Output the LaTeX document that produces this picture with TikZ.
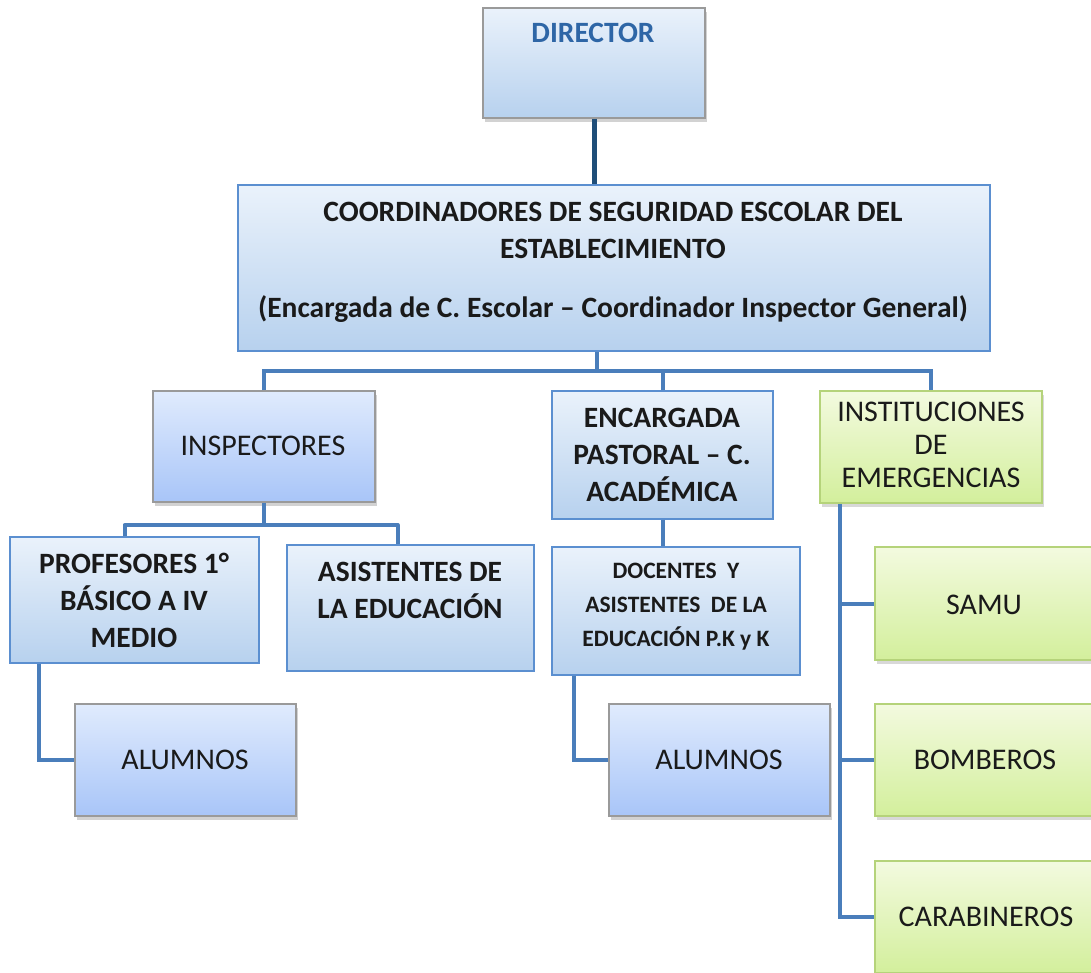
\documentclass[tikz,border=0pt]{standalone}
\usepackage{fontspec}
\setmainfont{Carlito}
\usetikzlibrary{shadows,calc}
\definecolor{conncol}{HTML}{4A7EBB}
\definecolor{dircol}{HTML}{1F4E79}
\definecolor{bluebord}{HTML}{5B8FD0}
\definecolor{graybord}{HTML}{9A9A9A}
\definecolor{greenbord}{HTML}{B5D37A}
\definecolor{bt}{HTML}{EAF2FB}
\definecolor{bb}{HTML}{B7D1EE}
\definecolor{lt}{HTML}{E0EBFD}
\definecolor{lb}{HTML}{A8C5F8}
\definecolor{gt}{HTML}{F3FADF}
\definecolor{gb}{HTML}{D3EF9C}
\definecolor{textcol}{HTML}{1A1A1A}
\definecolor{dirtext}{HTML}{2E66A6}
\tikzset{
  boxbase/.style={rectangle, inner sep=0pt, line width=1.5pt},
  bluebox/.style={boxbase, draw=bluebord, top color=bt, bottom color=bb},
  lavbox/.style={boxbase, draw=graybord, top color=lt, bottom color=lb,
     drop shadow={shadow xshift=2pt, shadow yshift=-4pt, opacity=0.35}},
  dirbox/.style={boxbase, draw=graybord, top color=bt, bottom color=bb,
     drop shadow={shadow xshift=2pt, shadow yshift=-4pt, opacity=0.35}},
  greenbox/.style={boxbase, draw=greenbord, top color=gt, bottom color=gb,
     drop shadow={shadow xshift=2pt, shadow yshift=-4pt, opacity=0.3}},
  conn/.style={draw=conncol, line width=4pt},
  dconn/.style={draw=dircol, line width=5pt},
  txt/.style={align=center, text=textcol, inner sep=0pt, font=\fontsize{30}{36}\selectfont},
  btxt/.style={txt, font=\fontsize{29.5}{37}\selectfont\bfseries},
}
\begin{document}
\begin{tikzpicture}[x=1pt,y=-1pt]
\clip (0,0) rectangle (1091,972);
\fill[white] (0,0) rectangle (1091,972);

% boxes
\node[dirbox, minimum width=222pt, minimum height=110pt] (dir) at (594,63) {};
\node[bluebox, minimum width=752pt, minimum height=166pt] (coord) at (614,268) {};
\node[lavbox, minimum width=222pt, minimum height=111pt] (insp) at (264,446.5) {};
\node[bluebox, minimum width=221pt, minimum height=128pt] (enc) at (662.5,455) {};
\node[greenbox, minimum width=222pt, minimum height=112pt] (inst) at (931,447) {};
\node[bluebox, minimum width=249pt, minimum height=126pt] (prof) at (134.5,600) {};
\node[bluebox, minimum width=247pt, minimum height=126pt] (asis) at (410.5,608) {};
\node[bluebox, minimum width=248pt, minimum height=128pt] (doc) at (676,611) {};
\node[lavbox, minimum width=221pt, minimum height=112pt] (alum1) at (185.5,760) {};
\node[lavbox, minimum width=221pt, minimum height=112pt] (alum2) at (719.5,760) {};
\node[greenbox, minimum width=222pt, minimum height=113pt] (samu) at (986,603.5) {};
\node[greenbox, minimum width=222pt, minimum height=112pt] (bomb) at (986,760) {};
\node[greenbox, minimum width=222pt, minimum height=112pt] (cara) at (986,917) {};

% texts
\node[btxt, text=dirtext] (tdir) at (593,33) {DIRECTOR};
\node[btxt] (tcoord) at (613,262) {COORDINADORES DE SEGURIDAD ESCOLAR DEL\\ESTABLECIMIENTO\\[22pt](Encargada de C. Escolar -- Coordinador Inspector General)};
\node[txt] (tinsp) at (263,446) {INSPECTORES};
\node[btxt] (tenc) at (662,455) {ENCARGADA\\PASTORAL -- C.\\ACADÉMICA};
\node[txt, font=\fontsize{30}{33}\selectfont] (tinst) at (931,445) {INSTITUCIONES\\DE\\EMERGENCIAS};
\node[btxt] (tprof) at (134,600) {PROFESORES 1°\\BÁSICO A IV\\MEDIO};
\node[btxt] (tasis) at (410,590) {ASISTENTES DE\\LA EDUCACIÓN};
\node[txt, font=\fontsize{23.5}{34}\selectfont\bfseries] (tdoc) at (676,607) {DOCENTES\ \ Y\\ASISTENTES\ \ DE LA\\EDUCACIÓN P.K y K};
\node[txt] (ta1) at (185,760) {ALUMNOS};
\node[txt] (ta2) at (719,760) {ALUMNOS};
\node[txt] (tsamu) at (984,605) {SAMU};
\node[txt] (tbomb) at (985,760) {BOMBEROS};
\node[txt] (tcara) at (986,917) {CARABINEROS};

% connectors
\coordinate (busC) at (597,371);
\coordinate (ib) at (263,525);
\draw[dconn] (dir.south) -- (dir.south |- coord.north);
\draw[conn] (busC) -- (busC |- coord.south);
\draw[conn] (insp.north) |- (inst.north |- busC) -- (inst.north);
\draw[conn] (enc.north) -- (enc.north |- busC);
\draw[conn] (insp.south) -- (insp.south |- ib);
\draw[conn, line join=round] ([xshift=-10pt]prof.north) -- ([xshift=-10pt]prof.north |- ib) -- ([xshift=-13pt]asis.north |- ib) -- ([xshift=-13pt]asis.north);
\draw[conn] ([xshift=30pt]prof.south west) |- (alum1.west);
\draw[conn] (enc.south) -- (enc.south |- doc.north);
\draw[conn] ([xshift=23pt]doc.south west) |- (alum2.west);
\coordinate (iv) at ([xshift=21pt]inst.south west);
\draw[conn] (iv) |- (cara.west);
\draw[conn] (samu.west) -- (samu.west -| iv);
\draw[conn] (bomb.west) -- (bomb.west -| iv);
\end{tikzpicture}
\end{document}
